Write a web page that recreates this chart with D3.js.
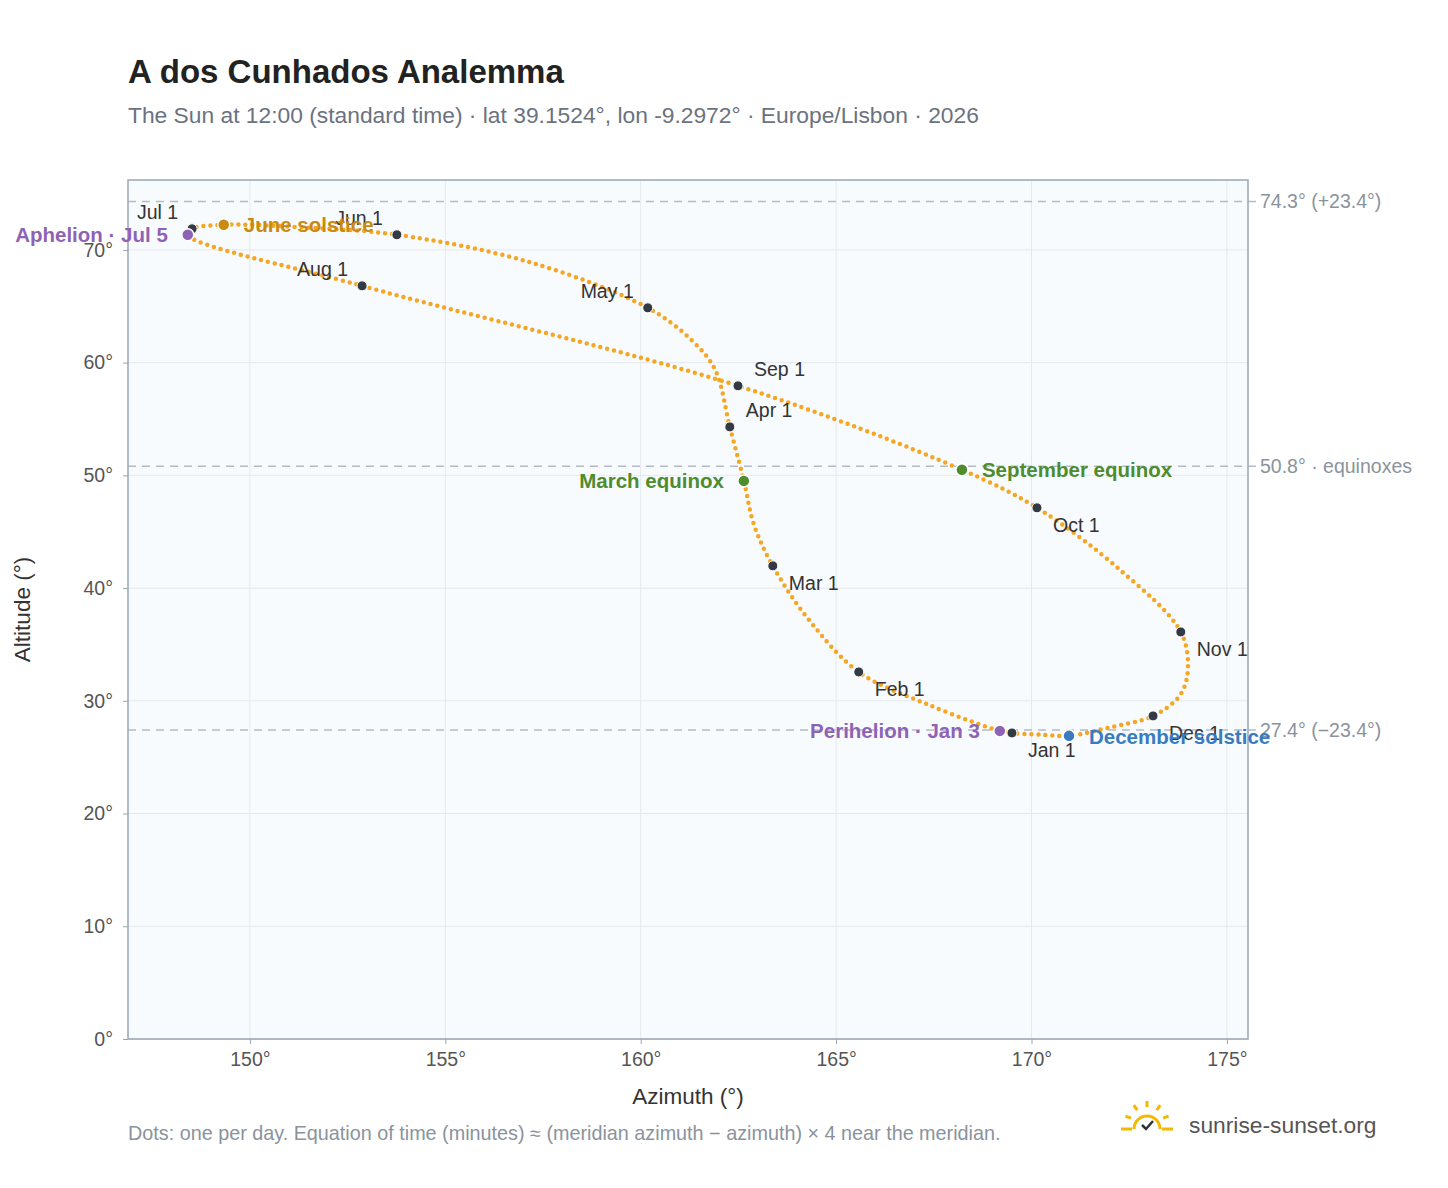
<!DOCTYPE html>
<html><head><meta charset="utf-8">
<script src="https://cdn.jsdelivr.net/npm/d3@7"></script>
<style>body{margin:0;background:#fff;font-family:"Liberation Sans",Arial,sans-serif}</style>
</head><body><div id="main_area"></div>
<script>
// path, roughly every 1-3 weeks (date, azimuth, altitude)
var pathDates = ["Jan 1","Jan 3","Jan 15","Feb 1","Feb 15","Mar 1","Mar 10","Mar 20","Apr 1","Apr 15","Apr 22","May 1","May 15","Jun 1","Jun 10","Jun 21","Jul 1","Jul 5","Aug 1","Sep 1","Sep 23","Oct 1","Oct 15","Nov 1","Nov 15","Nov 22","Dec 1","Dec 10","Dec 21","Dec 26","Dec 31"];
var pathAz = [169.5,169.19,167.4,165.58,164.3,163.38,162.9,162.64,162.28,161.9,161.3,160.18,157.17,153.76,151.54,149.33,148.52,148.41,152.87,162.49,168.22,170.14,172.27,173.82,174.0,173.8,173.11,171.95,170.96,170.2,169.6];
var pathAlt = [27.15,27.33,29.6,32.56,37.2,41.97,45.6,49.51,54.3,59.4,62.0,64.86,68.9,71.34,71.96,72.23,71.87,71.34,66.81,57.94,50.49,47.12,41.6,36.11,32.7,30.5,28.66,27.6,26.89,27.0,27.1];

var monthLabels = ["Jan 1","Feb 1","Mar 1","Apr 1","May 1","Jun 1","Jul 1","Aug 1","Sep 1","Oct 1","Nov 1","Dec 1"];
var monthAz = [169.5,165.58,163.38,162.28,160.18,153.76,148.52,152.87,162.49,170.14,173.82,173.11];
var monthAlt = [27.15,32.56,41.97,54.3,64.86,71.34,71.87,66.81,57.94,47.12,36.11,28.66];
var monthDx = [1,1,1,1,-1,-1,-1,-1,1,1,1,1];
var monthDy = [1,1,1,-1,-1,-1,-1,-1,-1,1,1,1];

var eventNames = ["Aphelion · Jul 5","June solstice","March equinox","September equinox","Perihelion · Jan 3","December solstice"];
var eventAz = [148.41,149.33,162.64,168.22,169.19,170.96];
var eventAlt = [71.34,72.23,49.51,50.49,27.33,26.89];
var eventColor = ["#8e63b5","#c98a12","#4e8c2e","#4e8c2e","#8e63b5","#3a7bbf"];
var eventLeft = [true,false,true,false,true,false];

var refAlt = [74.3,50.8,27.4];
var refLabels = ["74.3° (+23.4°)","50.8° · equinoxes","27.4° (−23.4°)"];
var xTicks = [150,155,160,165,170,175];
var yTicks = [0,10,20,30,40,50,60,70];

var W = 1448, H = 1188;
var margin = {top: 180, left: 128, right: 200, bottom: 149};
var width = W - margin.left - margin.right, height = H - margin.top - margin.bottom;

var svg = d3.select("#main_area").append("svg").attr("width", W).attr("height", H);
svg.append("text").attr("x",128).attr("y",83).attr("font-size",33).attr("font-weight","bold").attr("fill","#222").text("A dos Cunhados Analemma");
svg.append("text").attr("x",128).attr("y",123).attr("font-size",22.8).attr("fill","#6b7280").text("The Sun at 12:00 (standard time) · lat 39.1524°, lon -9.2972° · Europe/Lisbon · 2026");

var g = svg.append("g").attr("transform","translate("+margin.left+","+margin.top+")");
var x = d3.scaleLinear().domain([146.88,175.54]).range([0,width]);
var y = d3.scaleLinear().domain([0,76.2]).range([height,0]);

g.append("rect").attr("width",width).attr("height",height).attr("fill","#f8fbfe");
g.selectAll(".gx").data(xTicks).enter().append("line").attr("x1",x).attr("x2",x).attr("y1",0).attr("y2",height).attr("stroke","#e3e9ef");
g.selectAll(".gy").data(yTicks).enter().append("line").attr("y1",y).attr("y2",y).attr("x1",0).attr("x2",width).attr("stroke","#e3e9ef");

refAlt.forEach(function (a, i) {
    g.append("line").attr("x1",0).attr("x2",width+10).attr("y1",y(a)).attr("y2",y(a))
        .attr("stroke","#b3bcc6").attr("stroke-width",1.5).attr("stroke-dasharray","8,6");
    g.append("text").attr("x",width+12).attr("y",y(a)+7).attr("font-size",19.5).attr("fill","#8a939d").text(refLabels[i]);
});
g.append("rect").attr("width",width).attr("height",height).attr("fill","none").attr("stroke","#9aa5b1").attr("stroke-width",1.5);

var xa = g.append("g").attr("transform","translate(0,"+height+")").call(d3.axisBottom(x).tickValues(xTicks).tickSize(5).tickPadding(8).tickFormat(function(d){return d+"°";}));
var ya = g.append("g").call(d3.axisLeft(y).tickValues(yTicks).tickSize(5).tickPadding(10).tickFormat(function(d){return d+"°";}));
[xa,ya].forEach(function(a){
    a.select(".domain").remove();
    a.selectAll("line").attr("stroke","#9aa5b1");
    a.selectAll("text").attr("font-size",19.5).attr("fill","#555").attr("font-family","Liberation Sans, Arial");
});
g.append("text").attr("x",width/2).attr("y",height+65).attr("text-anchor","middle").attr("font-size",22.5).attr("fill","#333").text("Azimuth (°)");
g.append("text").attr("transform","rotate(-90)").attr("x",-height/2).attr("y",-98).attr("text-anchor","middle").attr("font-size",22.5).attr("fill","#333").text("Altitude (°)");

// analemma, drawn as a dotted curve
var pts = pathAz.map(function (d, i) { return [x(d), y(pathAlt[i])]; });
g.append("path").attr("d", d3.line().curve(d3.curveCatmullRom.alpha(0.5))(pts))
    .attr("fill","none").attr("stroke","#f5a623").attr("stroke-width",4.5)
    .attr("stroke-linecap","round").attr("stroke-dasharray","0 7");

monthLabels.forEach(function (m, i) {
    g.append("circle").attr("cx",x(monthAz[i])).attr("cy",y(monthAlt[i])).attr("r",5).attr("fill","#333a44").attr("stroke","#fff").attr("stroke-width",1);
    g.append("text").attr("x",x(monthAz[i])+(monthDx[i]>0?16:-14)).attr("y",y(monthAlt[i])+(monthDy[i]>0?24:-10))
        .attr("text-anchor",monthDx[i]>0?"start":"end").attr("font-size",19.5).attr("fill","#333").text(m);
});

eventNames.forEach(function (e, i) {
    var cx = x(eventAz[i]), cy = y(eventAlt[i]);
    g.append("circle").attr("cx",cx).attr("cy",cy).attr("r",6).attr("fill",eventColor[i]).attr("stroke","#fff").attr("stroke-width",1.5);
    g.append("text").attr("x",eventLeft[i]?cx-20:cx+20).attr("y",cy+(i==5?8:7))
        .attr("text-anchor",eventLeft[i]?"end":"start").attr("font-size",20.5).attr("font-weight","bold").attr("fill",eventColor[i]).text(e);
});

svg.append("text").attr("x",128).attr("y",1140).attr("font-size",19.8).attr("fill","#8a939d")
    .text("Dots: one per day. Equation of time (minutes) ≈ (meridian azimuth − azimuth) × 4 near the meridian.");
// logo
var lg = svg.append("g").attr("transform","translate(1147,1124)");
lg.append("path").attr("d","M-13,5 A13,13 0 0 1 13,5").attr("fill","none").attr("stroke","#f5b800").attr("stroke-width",3);
[-70,-35,0,35,70].forEach(function(a){
    var r = a*Math.PI/180;
    lg.append("line").attr("x1",Math.sin(r)*17).attr("y1",-Math.cos(r)*17).attr("x2",Math.sin(r)*23).attr("y2",-Math.cos(r)*23).attr("stroke","#f5b800").attr("stroke-width",3);
});
lg.append("line").attr("x1",-26).attr("x2",-15).attr("y1",5).attr("y2",5).attr("stroke","#f5b800").attr("stroke-width",3);
lg.append("line").attr("x1",15).attr("x2",26).attr("y1",5).attr("y2",5).attr("stroke","#f5b800").attr("stroke-width",3);
lg.append("path").attr("d","M-5,1 L-1,5 L6,-3").attr("fill","none").attr("stroke","#333").attr("stroke-width",2.5);
svg.append("text").attr("x",1189).attr("y",1133).attr("font-size",22.8).attr("fill","#555").text("sunrise-sunset.org");
</script></body></html>
